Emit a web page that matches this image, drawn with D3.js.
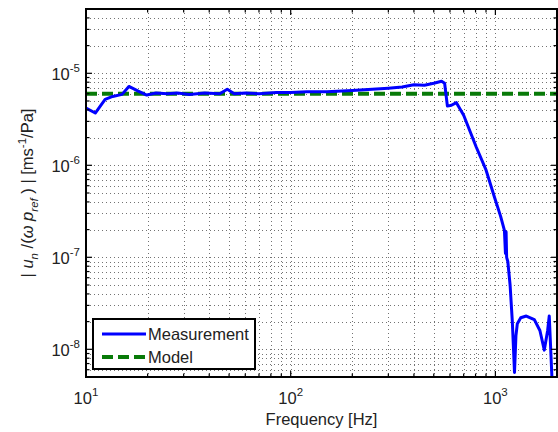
<!DOCTYPE html>
<html>
<head>
<meta charset="utf-8">
<script src="https://cdn.jsdelivr.net/npm/d3@7"></script>
<style>
  body { margin: 0; background: #fff; }
  text { font-family: "Liberation Sans", Arial, sans-serif; fill: #222; }
</style>
</head>
<body>
<svg id="chart" width="558" height="432"></svg>
<script>
  const freq = [10, 11.1, 12.4, 13.5, 15, 16.2, 18, 19.8, 22, 25, 28, 32, 38, 45, 49, 53, 60, 70, 85, 100,
    120, 150, 200, 250, 300, 350, 400, 450, 500, 546, 565, 583, 610, 645, 700, 807, 900, 990, 1060, 1107,
    1120, 1128, 1135, 1150, 1180, 1210, 1240, 1260, 1280, 1330, 1416, 1550, 1650, 1734, 1800, 1833, 1860, 1897, 1950];
  const measurement = [4.2e-6, 3.7e-6, 5.2e-6, 5.6e-6, 5.9e-6, 7.2e-6, 6.4e-6, 5.8e-6, 6.1e-6, 6.0e-6,
    6.1e-6, 5.9e-6, 6.1e-6, 6.0e-6, 6.7e-6, 6.0e-6, 6.1e-6, 6.0e-6, 6.2e-6, 6.2e-6,
    6.3e-6, 6.3e-6, 6.5e-6, 6.7e-6, 6.9e-6, 7.1e-6, 7.5e-6, 7.4e-6, 7.8e-6, 8.2e-6, 7.8e-6, 4.4e-6,
    4.5e-6, 4.8e-6, 3.5e-6, 1.57e-6, 8.9e-7, 4.5e-7, 2.8e-7, 1.96e-7, 1.1e-7, 1.9e-7, 1.0e-7, 9e-8,
    5e-8, 2e-8, 5.6e-9, 1.4e-8, 1.9e-8, 2.2e-8, 2.3e-8, 2.1e-8, 1.6e-8, 9.8e-9, 1.6e-8, 2.3e-8, 1.1e-8, 4e-9, 3e-9];
  const modelFreq = [10, 2000];
  const model = [6e-6, 6e-6];
  const xTickExp = [1, 2, 3];
  const yTickExp = [-8, -7, -6, -5];
  const legendNames = ["Measurement", "Model"];

  const svg = d3.select("#chart");
  const pLeft = 86, pRight = 557, pTop = 9, pBottom = 377;

  const x = d3.scaleLog().domain([10, 2000]).range([pLeft, pRight]);
  const y = d3.scaleLog().domain([5e-9, 5e-5]).range([pBottom, pTop]);

  const xMinor = x.ticks();
  const yMinor = y.ticks();

  // grid
  const grid = svg.append("g")
    .attr("stroke", "#000")
    .attr("stroke-opacity", 0.55)
    .attr("stroke-width", 1)
    .attr("stroke-dasharray", "1,3");
  grid.selectAll(".gx").data(xMinor).join("line")
    .attr("x1", d => Math.round(x(d)) + 0.5).attr("x2", d => Math.round(x(d)) + 0.5)
    .attr("y1", pTop).attr("y2", pBottom);
  grid.selectAll(".gy").data(yMinor).join("line")
    .attr("y1", d => Math.round(y(d)) + 0.5).attr("y2", d => Math.round(y(d)) + 0.5)
    .attr("x1", pLeft).attr("x2", pRight);

  svg.append("clipPath").attr("id", "clip")
    .append("rect").attr("x", pLeft).attr("y", pTop)
    .attr("width", pRight - pLeft).attr("height", pBottom - pTop);

  const line = d3.line().x(d => x(d[0])).y(d => y(d[1]));

  svg.append("path")
    .datum(d3.zip(modelFreq, model))
    .attr("clip-path", "url(#clip)")
    .attr("d", line)
    .attr("fill", "none")
    .attr("stroke", "#087a08")
    .attr("stroke-width", 4)
    .attr("stroke-dasharray", "11,5");

  svg.append("path")
    .datum(d3.zip(freq, measurement))
    .attr("clip-path", "url(#clip)")
    .attr("d", line)
    .attr("fill", "none")
    .attr("stroke", "#0000ff")
    .attr("stroke-width", 3)
    .attr("stroke-linejoin", "round");

  // ticks on all four sides
  const ticks = svg.append("g").attr("stroke", "#000").attr("stroke-width", 1.2);
  const isMajor = v => Math.abs(Math.log10(v) - Math.round(Math.log10(v))) < 1e-9;
  xMinor.forEach(v => {
    const len = isMajor(v) ? 6 : 3.5, px = x(v);
    ticks.append("line").attr("x1", px).attr("x2", px).attr("y1", pBottom).attr("y2", pBottom - len);
    ticks.append("line").attr("x1", px).attr("x2", px).attr("y1", pTop).attr("y2", pTop + len);
  });
  yMinor.forEach(v => {
    const len = isMajor(v) ? 6 : 3.5, py = y(v);
    ticks.append("line").attr("y1", py).attr("y2", py).attr("x1", pLeft).attr("x2", pLeft + len);
    ticks.append("line").attr("y1", py).attr("y2", py).attr("x1", pRight).attr("x2", pRight - len);
  });

  svg.append("rect")
    .attr("x", pLeft).attr("y", pTop)
    .attr("width", pRight - pLeft).attr("height", pBottom - pTop)
    .attr("fill", "none").attr("stroke", "#000").attr("stroke-width", 2);

  // tick labels
  xTickExp.forEach(e => {
    const t = svg.append("text")
      .attr("x", x(Math.pow(10, e)))
      .attr("y", 404)
      .attr("text-anchor", "middle")
      .attr("font-size", 16.5);
    t.append("tspan").text("10");
    t.append("tspan").attr("dy", -8).attr("font-size", 11.5).text(e);
  });
  yTickExp.forEach(e => {
    const t = svg.append("text")
      .attr("x", 80)
      .attr("y", y(Math.pow(10, e)) + 7)
      .attr("text-anchor", "end")
      .attr("font-size", 16.5);
    t.append("tspan").text("10");
    t.append("tspan").attr("dy", -8).attr("font-size", 11.5).text(e);
  });

  svg.append("text")
    .attr("x", (pLeft + pRight) / 2)
    .attr("y", 425)
    .attr("text-anchor", "middle")
    .attr("font-size", 16.5)
    .text("Frequency [Hz]");

  // y label
  const yl = svg.append("text")
    .attr("transform", `translate(33,${(pTop + pBottom) / 2}) rotate(-90)`)
    .attr("text-anchor", "middle")
    .attr("font-size", 16.5);
  yl.append("tspan").text("|  ");
  yl.append("tspan").attr("font-style", "italic").text("u");
  yl.append("tspan").attr("font-style", "italic").attr("font-size", 11.5).attr("dy", 5).text("n");
  yl.append("tspan").attr("dy", -5).text(" /(");
  yl.append("tspan").attr("font-style", "italic").text("ω p");
  yl.append("tspan").attr("font-style", "italic").attr("font-size", 11.5).attr("dy", 5).text("ref");
  yl.append("tspan").attr("dy", -5).text(" )  |  [ms");
  yl.append("tspan").attr("font-size", 11.5).attr("dy", -7).text("-1");
  yl.append("tspan").attr("dy", 7).text("/Pa]");

  // legend
  const lg = svg.append("g");
  lg.append("rect")
    .attr("x", 93).attr("y", 319).attr("width", 162).attr("height", 50)
    .attr("fill", "#fff").attr("stroke", "#000").attr("stroke-width", 2);
  const legendStyle = [
    { color: "#0000ff", width: 3, dash: null },
    { color: "#087a08", width: 4, dash: "11,5" }
  ];
  legendNames.forEach((name, i) => {
    const cy = 334 + i * 23;
    lg.append("line")
      .attr("x1", 102).attr("x2", 146).attr("y1", cy).attr("y2", cy)
      .attr("stroke", legendStyle[i].color)
      .attr("stroke-width", legendStyle[i].width)
      .attr("stroke-dasharray", legendStyle[i].dash);
    lg.append("text")
      .attr("x", 148).attr("y", cy + 6)
      .attr("font-size", 16.5)
      .text(name);
  });
</script>
</body>
</html>
